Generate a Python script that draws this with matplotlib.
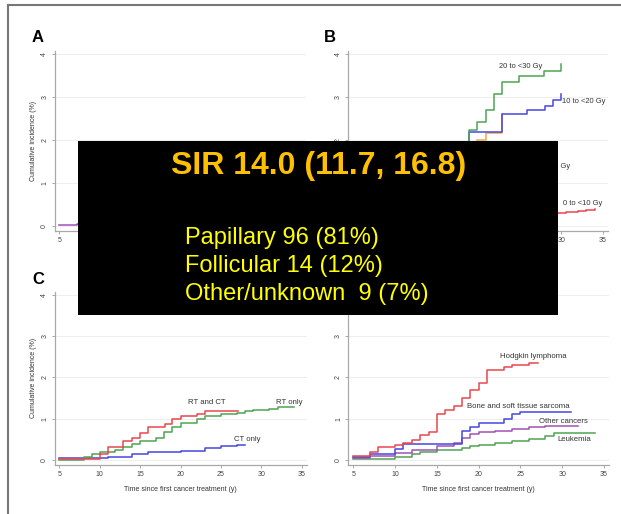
import matplotlib
matplotlib.use("Agg")
import matplotlib.pyplot as plt
from matplotlib.patches import Rectangle
from matplotlib.lines import Line2D

plt.rcParams['font.family'] = ['Liberation Sans', 'DejaVu Sans']

W, H = 621, 514

# ---- data (years since treatment, cumulative incidence %) ----
# panel A (mostly hidden behind the box)
a_t = [5, 7.2, 8.0]
a_all = [0.02, 0.05, 0.05]

# panel B, by radiation dose to the thyroid
b_t_20 = [18.0, 18.9, 19.9, 20.9, 21.9, 22.9, 24.9, 27.9, 30.0]
b_v_20 = [1.80, 2.23, 2.42, 2.69, 3.07, 3.34, 3.49, 3.61, 3.76]
b_t_10 = [18.0, 18.9, 22.9, 25.9, 28.0, 29.0, 30.0]
b_v_10 = [1.80, 2.19, 2.60, 2.70, 2.80, 2.92, 3.07]
b_t_30 = [19.0, 19.9, 20.9, 22.9]
b_v_30 = [1.80, 2.00, 2.15, 2.60]
b_t_0 = [28.0, 30.5, 32.0, 33.0, 34.0]
b_v_0 = [0.30, 0.32, 0.35, 0.37, 0.39]

# panel C, by treatment type
c_t_rtct = [5, 10, 11, 12.9, 14, 15, 16, 18.1, 19, 20.1, 22, 23, 27.1]
c_v_rtct = [0.02, 0.15, 0.31, 0.45, 0.53, 0.65, 0.80, 0.86, 1.00, 1.06, 1.12, 1.19, 1.19]
c_t_rt = [5, 8, 9, 10, 11.9, 12.9, 14, 15, 17, 18, 19, 20, 22, 23, 25, 27, 28, 29, 31, 32, 34.1]
c_v_rt = [0.00, 0.08, 0.14, 0.18, 0.24, 0.31, 0.39, 0.45, 0.53, 0.67, 0.80, 0.89, 1.00, 1.06,
          1.10, 1.14, 1.18, 1.20, 1.23, 1.27, 1.27]
c_t_ct = [5, 11, 14, 16, 20, 23, 25, 27, 28]
c_v_ct = [0.05, 0.08, 0.13, 0.18, 0.22, 0.29, 0.33, 0.35, 0.35]

# panel D, by first cancer type
d_t_hl = [5, 7, 8, 10, 11, 12, 13, 14, 15, 16, 17, 18, 19, 20, 21, 23, 24, 26, 27.1]
d_v_hl = [0.10, 0.20, 0.31, 0.37, 0.42, 0.49, 0.61, 0.67, 1.10, 1.20, 1.30, 1.50, 1.69,
          1.87, 2.18, 2.26, 2.30, 2.36, 2.36]
d_t_bone = [5, 7, 10, 11, 18, 19, 20, 23, 24, 25, 31]
d_v_bone = [0.08, 0.15, 0.26, 0.39, 0.69, 0.79, 0.89, 0.99, 1.10, 1.16, 1.16]
d_t_oth = [5, 7, 10, 12, 15, 17, 18, 19, 20, 22, 24, 26, 28, 31.9]
d_v_oth = [0.04, 0.10, 0.16, 0.24, 0.33, 0.41, 0.53, 0.63, 0.67, 0.71, 0.75, 0.80, 0.81, 0.83]
d_t_leu = [5, 10, 12, 13, 15, 18, 19, 20, 22, 24, 26, 28, 29, 33.9]
d_v_leu = [0.02, 0.07, 0.15, 0.20, 0.24, 0.28, 0.33, 0.37, 0.41, 0.45, 0.50, 0.57, 0.65, 0.65]

x_ticks = [5, 10, 15, 20, 25, 30, 35]
y_ticks = [0, 1, 2, 3, 4]

box_title = "SIR 14.0 (11.7, 16.8)"
box_lines = ["Papillary 96 (81%)", "Follicular 14 (12%)", "Other/unknown  9 (7%)"]

RED, GREEN, BLUE = '#e8464e', '#4fa453', '#4646e0'
PURPLE, ORANGE = '#a052b4', '#f0a640'
TXT = '#333333'


def px_axes(left, top, right, bottom):
    return fig.add_axes([left / W, 1 - bottom / H, (right - left) / W, (bottom - top) / H])


def style(ax, ylabel=True, xlabel=True, xshow=None, yshow=None):
    ax.set_xlim(4.4, 35.6)
    ax.set_ylim(-0.12, 4.08)
    ax.set_xticks(x_ticks)
    ax.set_yticks(y_ticks)
    # labels that sit under the black box are left blank
    xshow = x_ticks if xshow is None else xshow
    yshow = y_ticks if yshow is None else yshow
    ax.set_xticklabels([str(t) if t in xshow else '' for t in x_ticks])
    ax.set_yticklabels([str(t) if t in yshow else '' for t in y_ticks],
                       rotation=90, va='center')
    for s in ['top', 'right']:
        ax.spines[s].set_visible(False)
    for s in ['left', 'bottom']:
        ax.spines[s].set_color('#a8a8a8')
        ax.spines[s].set_linewidth(0.9)
    ax.tick_params(colors='#a8a8a8', labelcolor='#444444', labelsize=5, length=2.5,
                   width=0.7, pad=2)
    ax.grid(axis='y', color='#eeeeee', lw=0.8)
    ax.set_axisbelow(True)
    if ylabel:
        ax.set_ylabel("Cumulative incidence (%)", fontsize=5, color=TXT, labelpad=3)
    if xlabel:
        ax.set_xlabel("Time since first cancer treatment (y)", fontsize=5, color=TXT,
                      labelpad=6)


fig = plt.figure(figsize=(W / 100, H / 100), dpi=100)

axA = px_axes(54.5, 50.5, 306, 231)
axB = px_axes(348, 50.5, 608, 231)
axC = px_axes(54.5, 291.6, 306.6, 464.8)
axD = px_axes(348.3, 291.6, 609, 464.8)

style(axA, xlabel=False, xshow=[5])
style(axB, ylabel=False, xlabel=False, xshow=[30, 35], yshow=[2, 3, 4])
style(axC)
style(axD, ylabel=False, yshow=[0, 1, 2, 3])

lw = 1.1
axA.step(a_t, a_all, where='post', color=PURPLE, lw=lw)

axB.step(b_t_0, b_v_0, where='post', color=RED, lw=lw)
axB.step(b_t_30, b_v_30, where='post', color=ORANGE, lw=lw)
axB.step(b_t_10, b_v_10, where='post', color=BLUE, lw=lw)
axB.step(b_t_20, b_v_20, where='post', color=GREEN, lw=lw)
axB.text(25.1, 3.70, "20 to <30 Gy", fontsize=5.4, ha='center', va='center', color=TXT)
axB.text(32.7, 2.90, "10 to <20 Gy", fontsize=5.4, ha='center', va='center', color=TXT)
axB.text(32.6, 0.52, "0 to <10 Gy", fontsize=5.4, ha='center', va='center', color=TXT)
axB.text(31.1, 1.38, "\u226530 Gy", fontsize=5.4, ha='right', va='center', color=TXT)

axC.step(c_t_ct, c_v_ct, where='post', color=BLUE, lw=lw)
axC.step(c_t_rt, c_v_rt, where='post', color=GREEN, lw=lw)
axC.step(c_t_rtct, c_v_rtct, where='post', color=RED, lw=lw)
axC.text(23.3, 1.40, "RT and CT", fontsize=5.6, ha='center', va='center', color=TXT)
axC.text(33.5, 1.40, "RT only", fontsize=5.6, ha='center', va='center', color=TXT)
axC.text(28.2, 0.49, "CT only", fontsize=5.6, ha='center', va='center', color=TXT)

axD.step(d_t_leu, d_v_leu, where='post', color=GREEN, lw=lw)
axD.step(d_t_oth, d_v_oth, where='post', color=PURPLE, lw=lw)
axD.step(d_t_bone, d_v_bone, where='post', color=BLUE, lw=lw)
axD.step(d_t_hl, d_v_hl, where='post', color=RED, lw=lw)
axD.text(26.5, 2.51, "Hodgkin lymphoma", fontsize=5.6, ha='center', va='center', color=TXT)
axD.text(24.7, 1.30, "Bone and soft tissue sarcoma", fontsize=5.6, ha='center', va='center',
         color=TXT)
axD.text(30.1, 0.93, "Other cancers", fontsize=5.6, ha='center', va='center', color=TXT)
axD.text(31.5, 0.49, "Leukemia", fontsize=5.6, ha='center', va='center', color=TXT)

# panel letters
for lab, x, y in [("A", 38, 37), ("B", 330, 37), ("C", 38, 280)]:
    fig.text(x / W, 1 - y / H, lab, fontsize=12, fontweight='bold', ha='center', va='center')

# outer frame (left and top edges only)
fig.add_artist(Line2D([8 / W, 8 / W], [0, 1 - 5 / H], color='#777777', lw=1.5))
fig.add_artist(Line2D([8 / W, 1], [1 - 5 / H, 1 - 5 / H], color='#777777', lw=1.5))

# black overlay box
fig.add_artist(Rectangle((78 / W, 1 - 315 / H), 480 / W, 174 / H, transform=fig.transFigure,
                         facecolor='black', edgecolor='none', zorder=10))
fig.text(318.5 / W, 1 - 166 / H, box_title, fontsize=23, fontweight='bold', color='#ffc000',
         ha='center', va='center', zorder=11)
for i, line in enumerate(box_lines):
    fig.text(185 / W, 1 - (238 + 28 * i) / H, line, fontsize=17, color='#ffff00',
             ha='left', va='center', zorder=11)

fig.savefig("out.png", dpi=100)
